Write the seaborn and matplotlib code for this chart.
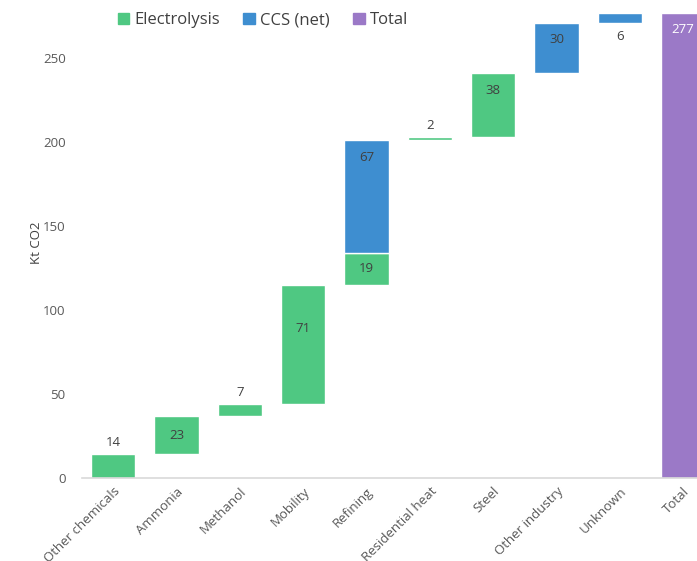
import numpy as np
import pandas as pd
import matplotlib
matplotlib.use("Agg")
import matplotlib.pyplot as plt
import seaborn as sns
from matplotlib.patches import Patch

categories = ["Other chemicals", "Ammonia", "Methanol", "Mobility", "Refining",
              "Residential heat", "Steel", "Other industry", "Unknown", "Total"]
electrolysis = [14, 23, 7, 71, 19, 2, 38, 0, 0]
ccs_net = [0, 0, 0, 0, 67, 0, 0, 30, 6]
total = 277
yticks = [0, 50, 100, 150, 200, 250]

sns.set_theme(style="white")
plt.rcParams["font.family"] = ["Open Sans", "DejaVu Sans"]

GREEN = "#4fc882"
BLUE = "#3e8ed0"
PURPLE = "#9b79c7"
TXT = "#404040"

fig = plt.figure(figsize=(6.97, 5.61), dpi=100)
ax = fig.add_axes([0.118, 0.148, 0.882, 0.838])

# waterfall bottoms
e_bottom, c_bottom = [], []
run = 0
for e, c in zip(electrolysis, ccs_net):
    e_bottom.append(run)
    run += e
    c_bottom.append(run)
    run += c

cats_steps = categories[:-1]
e_idx = [i for i, v in enumerate(electrolysis) if v > 0]
c_idx = [i for i, v in enumerate(ccs_net) if v > 0]

df_e = pd.DataFrame({"cat": [cats_steps[i] for i in e_idx], "val": [electrolysis[i] for i in e_idx]})
df_c = pd.DataFrame({"cat": [cats_steps[i] for i in c_idx], "val": [ccs_net[i] for i in c_idx]})
df_t = pd.DataFrame({"cat": ["Total"], "val": [total]})

w = 0.7
sns.barplot(data=df_e, x="cat", y="val", order=categories, color=GREEN, width=w,
            bottom=[e_bottom[i] for i in e_idx], ax=ax, saturation=1, errorbar=None)
sns.barplot(data=df_c, x="cat", y="val", order=categories, color=BLUE, width=w,
            bottom=[c_bottom[i] for i in c_idx], ax=ax, saturation=1, errorbar=None)
sns.barplot(data=df_t, x="cat", y="val", order=categories, color=PURPLE, width=w,
            ax=ax, saturation=1, errorbar=None)

# labels: "above" = above bar, "below" = below bar, number = distance below top (data units), None = centre
FS = 9.5
e_label_pos = {"Other chemicals": "above", "Methanol": "above", "Residential heat": "above",
               "Mobility": 26, "Steel": 10}
c_label_pos = {"Unknown": "below", "Refining": 10, "Other industry": 10}

def put_label(i, v, b, pos):
    if pos == "above":
        ax.text(i, b + v + 3, str(v), ha="center", va="bottom", fontsize=FS, color=TXT)
    elif pos == "below":
        ax.text(i, b - 4, str(v), ha="center", va="top", fontsize=FS, color=TXT)
    elif pos is None:
        ax.text(i, b + v / 2, str(v), ha="center", va="center", fontsize=FS, color=TXT)
    else:
        ax.text(i, b + v - pos, str(v), ha="center", va="center", fontsize=FS, color=TXT)

for i in e_idx:
    put_label(i, electrolysis[i], e_bottom[i], e_label_pos.get(cats_steps[i]))
for i in c_idx:
    put_label(i, ccs_net[i], c_bottom[i], c_label_pos.get(cats_steps[i]))
ax.text(9, total - 10, str(total), ha="center", va="center", fontsize=FS, color="white")

ax.set_ylim(0, 280)
ax.set_xlim(-0.49, 9.22)
ax.set_yticks(yticks)
ax.tick_params(axis="y", labelsize=9.5, labelcolor="#595959", length=0, pad=12)
ax.tick_params(axis="x", labelsize=9.5, labelcolor="#595959", length=0, pad=5)
plt.setp(ax.get_xticklabels(), rotation=45, ha="right", rotation_mode="anchor")
ax.set_xlabel("")
ax.set_ylabel("Kt CO2", fontsize=9.5, color="#404040", labelpad=0)
for s in ["top", "right", "left"]:
    ax.spines[s].set_visible(False)
ax.spines["bottom"].set_color("#d9d9d9")
ax.spines["bottom"].set_linewidth(1.2)

handles = [Patch(color=GREEN, label="Electrolysis"), Patch(color=BLUE, label="CCS (net)"),
           Patch(color=PURPLE, label="Total")]
fig.legend(handles=handles, loc="center", bbox_to_anchor=(0.377, 0.964), ncol=3, frameon=False,
           fontsize=12, handlelength=0.7, handleheight=0.7, handletextpad=0.3, columnspacing=1.4,
           labelcolor="#404040")

fig.savefig("out.png", dpi=100)
